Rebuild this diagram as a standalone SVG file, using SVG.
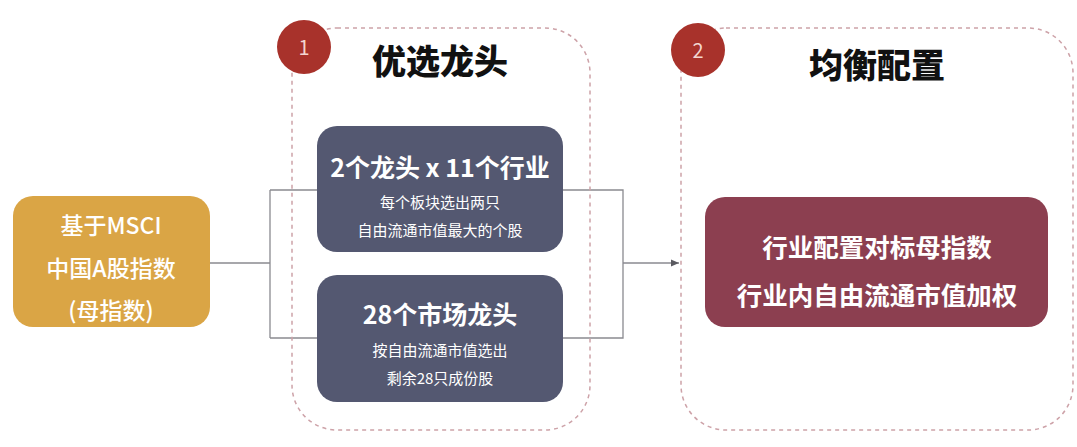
<svg xmlns="http://www.w3.org/2000/svg" width="1077" height="447" viewBox="0 0 1077 447">
<defs>
<style>
.cn{font-family:"Noto Sans CJK SC","Liberation Sans",sans-serif;}
.cont{fill:none;stroke:#CDA2A8;stroke-width:1.5;stroke-dasharray:4 4;}
.conn{fill:none;stroke:#8A8A90;stroke-width:1.3;}
.wt{fill:#FFFFFF;text-anchor:middle;}
.ttl{fill:#111111;text-anchor:middle;font-size:34px;font-weight:900;}
</style>
<marker id="arr" markerWidth="10" markerHeight="10" refX="8" refY="5" orient="auto" markerUnits="userSpaceOnUse">
<path d="M0,1.5 L8,5 L0,8.5 Z" fill="#5A5A60"/>
</marker>
</defs>
<rect width="1077" height="447" fill="#FFFFFF"/>
<g id="connectors">
<path class="conn" d="M210,263 H270 M270,190 V338 M270,190 H318 M270,338 H318"/>
<path class="conn" d="M563,190 H623 V338 H563"/>
<path class="conn" d="M623,263 H679" stroke="#5A5A60" marker-end="url(#arr)"/>
</g>
<g id="group1">
<rect class="cont" x="292" y="28" width="298" height="402" rx="45"/>
<circle cx="304" cy="47" r="27" fill="#A8322B"/>
<text class="cn" x="304" y="55" fill="#F3D6D0" text-anchor="middle" font-size="20">1</text>
<text class="cn ttl" x="440" y="74">优选龙头</text>
</g>
<g id="group2">
<rect class="cont" x="681" y="28" width="392" height="402" rx="45"/>
<circle cx="698" cy="50" r="27" fill="#A8322B"/>
<text class="cn" x="698" y="58" fill="#F3D6D0" text-anchor="middle" font-size="20">2</text>
<text class="cn ttl" x="877" y="78">均衡配置</text>
</g>
<g id="node-parent">
<rect x="13" y="196" width="197" height="131" rx="20" fill="#DAA545"/>
<text class="cn wt" x="111" y="234" font-size="23" font-weight="500" fill="#FFF6E6">基于MSCI</text>
<text class="cn wt" x="111" y="277" font-size="23" font-weight="500" fill="#FFF6E6">中国A股指数</text>
<text class="cn wt" x="111" y="319" font-size="23" font-weight="500" fill="#FFF6E6">(母指数)</text>
</g>
<g id="node-industry">
<rect x="317" y="126" width="246" height="126" rx="20" fill="#545871"/>
<text class="cn wt" x="440" y="177" font-size="25" font-weight="bold">2个龙头 x 11个行业</text>
<text class="cn wt" x="440" y="208" font-size="15" fill="#E4E5EC">每个板块选出两只</text>
<text class="cn wt" x="440" y="236" font-size="15" fill="#E4E5EC">自由流通市值最大的个股</text>
</g>
<g id="node-market">
<rect x="317" y="275" width="246" height="127" rx="20" fill="#545871"/>
<text class="cn wt" x="440" y="324" font-size="25" font-weight="bold">28个市场龙头</text>
<text class="cn wt" x="440" y="356" font-size="15" fill="#E4E5EC">按自由流通市值选出</text>
<text class="cn wt" x="440" y="384" font-size="15" fill="#E4E5EC">剩余28只成份股</text>
</g>
<g id="node-balance">
<rect x="705" y="197" width="343" height="130" rx="20" fill="#8C3F50"/>
<text class="cn wt" x="877" y="257" font-size="25.5" font-weight="bold">行业配置对标母指数</text>
<text class="cn wt" x="877" y="305" font-size="25.5" font-weight="bold">行业内自由流通市值加权</text>
</g>
</svg>
